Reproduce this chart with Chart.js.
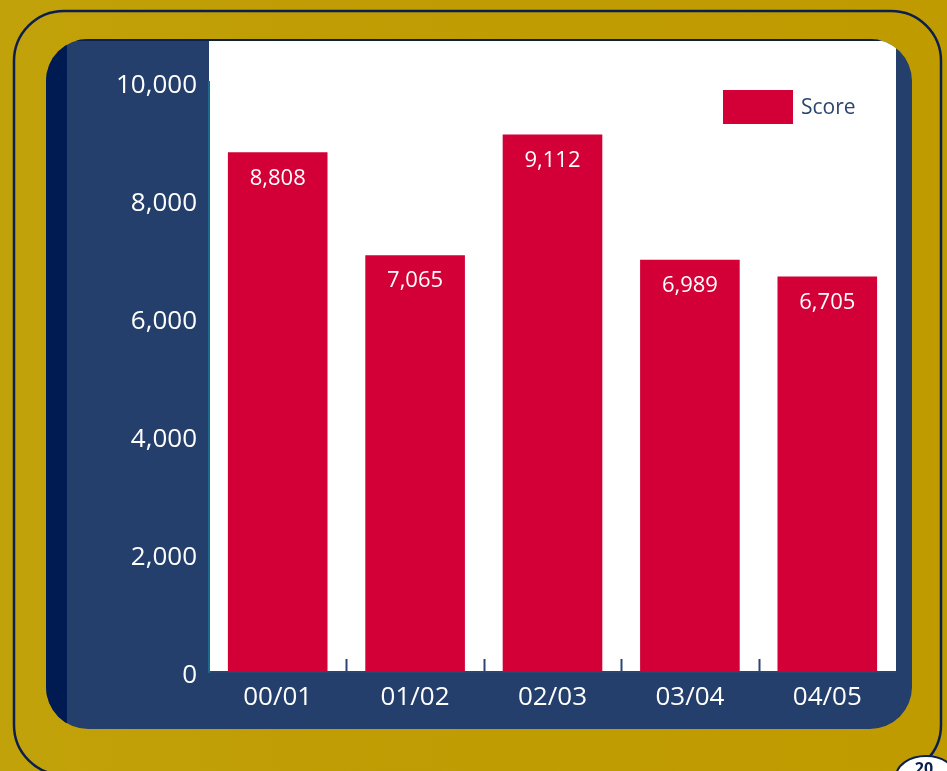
<!DOCTYPE html>
<html>
<head>
<meta charset="utf-8">
<script src="https://cdn.jsdelivr.net/npm/chart.js@4.4.0/dist/chart.umd.min.js"></script>
<style>
  html, body { margin: 0; padding: 0; background: #bf9b00; }
  #wrap { width: 947px; height: 771px; position: relative; }
  canvas { display: block; }
</style>
</head>
<body>
<div id="wrap"><canvas id="c" width="947" height="771"></canvas></div>
<script>
// ---- Data ----
const categories = ['00/01', '01/02', '02/03', '03/04', '04/05'];
const scoreValues = [8808, 7065, 9112, 6989, 6705];
const seriesLabel = 'Score';
const yTickMax = 10000;
const yTickStep = 2000;

// ---- Styles ----
const FONT = '"Open Sans", "Noto Sans", sans-serif';
const GOLD = '#bf9b00';
const NAVY = '#243f6b';
const DARK_NAVY = '#001a52';
const OUTLINE = '#0b1f4f';
const BAR_RED = '#d20037';
const LEGEND_TEXT = '#2c4570';

function roundRectPath(ctx, x, y, w, h, r) {
  ctx.beginPath();
  ctx.moveTo(x + r, y);
  ctx.lineTo(x + w - r, y);
  ctx.arcTo(x + w, y, x + w, y + r, r);
  ctx.lineTo(x + w, y + h - r);
  ctx.arcTo(x + w, y + h, x + w - r, y + h, r);
  ctx.lineTo(x + r, y + h);
  ctx.arcTo(x, y + h, x, y + h - r, r);
  ctx.lineTo(x, y + r);
  ctx.arcTo(x, y, x + r, y, r);
  ctx.closePath();
}

const backgroundPlugin = {
  id: 'frameBackground',
  beforeDraw(chart) {
    const ctx = chart.ctx;
    const area = chart.chartArea;
    const W = chart.width, H = chart.height;
    ctx.save();
    // gold page
    const g = ctx.createLinearGradient(0, 0, W, 0);
    g.addColorStop(0, '#c2a20a');
    g.addColorStop(0.3, '#c09d04');
    g.addColorStop(1, GOLD);
    ctx.fillStyle = g;
    ctx.fillRect(0, 0, W, H);
    // outer outline frame
    roundRectPath(ctx, 14, 11, 927, 764, 50);
    ctx.lineWidth = 2.5;
    ctx.strokeStyle = OUTLINE;
    ctx.stroke();
    // navy panel
    const px = 46, py = 39, pw = 866, ph = 690, pr = 42;
    roundRectPath(ctx, px, py, pw, ph, pr);
    ctx.fillStyle = NAVY;
    ctx.fill();
    ctx.save();
    ctx.clip();
    // dark left strip
    ctx.fillStyle = DARK_NAVY;
    ctx.fillRect(px, py, 21, ph);
    // white plotting panel
    ctx.fillStyle = '#ffffff';
    ctx.fillRect(area.left, py + 1, area.right - area.left, area.bottom - py - 1);
    // thin dark top edge
    ctx.fillStyle = OUTLINE;
    ctx.fillRect(px, py, pw, 2);
    ctx.restore();
    // page number oval
    ctx.beginPath();
    ctx.ellipse(926, 777, 30, 21, 0, 0, Math.PI * 2);
    ctx.fillStyle = '#ffffff';
    ctx.fill();
    ctx.lineWidth = 2;
    ctx.strokeStyle = OUTLINE;
    ctx.stroke();
    ctx.fillStyle = OUTLINE;
    ctx.font = 'bold 16px ' + FONT;
    ctx.textAlign = 'center';
    ctx.textBaseline = 'top';
    ctx.fillText('20', 924, 761);
    ctx.restore();
  }
};

const overlayPlugin = {
  id: 'overlay',
  afterDatasetsDraw(chart) {
    const ctx = chart.ctx;
    const area = chart.chartArea;
    const xs = chart.scales.x;
    ctx.save();
    // value labels inside bars
    const meta = chart.getDatasetMeta(0);
    ctx.fillStyle = '#ffffff';
    ctx.font = '22px ' + FONT;
    ctx.textAlign = 'center';
    ctx.textBaseline = 'middle';
    meta.data.forEach((bar, i) => {
      const v = chart.data.datasets[0].data[i];
      ctx.fillText(v.toLocaleString('en-US'), bar.x, bar.y + 26);
    });
    // small category separator ticks rising from x axis
    ctx.strokeStyle = LEGEND_TEXT;
    ctx.lineWidth = 2;
    for (let i = 0; i < categories.length - 1; i++) {
      const x = Math.round((xs.getPixelForValue(i) + xs.getPixelForValue(i + 1)) / 2) + 0.5;
      ctx.beginPath();
      ctx.moveTo(x, area.bottom - 13);
      ctx.lineTo(x, area.bottom);
      ctx.stroke();
    }
    // legend (inside plot, top right)
    const ds = chart.data.datasets[0];
    const lx = area.right - 173, ly = area.top + 8;
    ctx.fillStyle = ds.backgroundColor;
    ctx.fillRect(lx, ly, 70, 34);
    ctx.fillStyle = LEGEND_TEXT;
    ctx.font = '21px ' + FONT;
    ctx.textAlign = 'left';
    ctx.textBaseline = 'middle';
    ctx.fillText(ds.label, lx + 78, ly + 18);
    ctx.restore();
  }
};

new Chart(document.getElementById('c'), {
  type: 'bar',
  data: {
    labels: categories,
    datasets: [{
      label: seriesLabel,
      data: scoreValues,
      backgroundColor: BAR_RED,
      borderWidth: 0,
      barPercentage: 0.725,
      categoryPercentage: 1.0
    }]
  },
  options: {
    responsive: false,
    devicePixelRatio: 1,
    animation: false,
    layout: { padding: { top: 82, right: 51, bottom: 0, left: 0 } },
    plugins: {
      legend: { display: false },
      tooltip: { enabled: false }
    },
    scales: {
      x: {
        grid: { display: false, drawTicks: false },
        border: { display: true, color: LEGEND_TEXT, width: 2 },
        ticks: { color: '#ffffff', font: { family: FONT, size: 26 }, padding: 10 },
        afterFit(scale) { scale.height = 99; }
      },
      y: {
        min: 0,
        max: yTickMax,
        grid: { display: false, drawTicks: false },
        border: { display: true, color: '#1a6a8c', width: 2 },
        ticks: {
          stepSize: yTickStep,
          color: '#ffffff',
          font: { family: FONT, size: 26 },
          padding: 12,
          labelOffset: 4,
          callback: (v) => Number(v).toLocaleString('en-US')
        },
        afterFit(scale) { scale.width = 209; }
      }
    }
  },
  plugins: [backgroundPlugin, overlayPlugin]
});
</script>
</body>
</html>
